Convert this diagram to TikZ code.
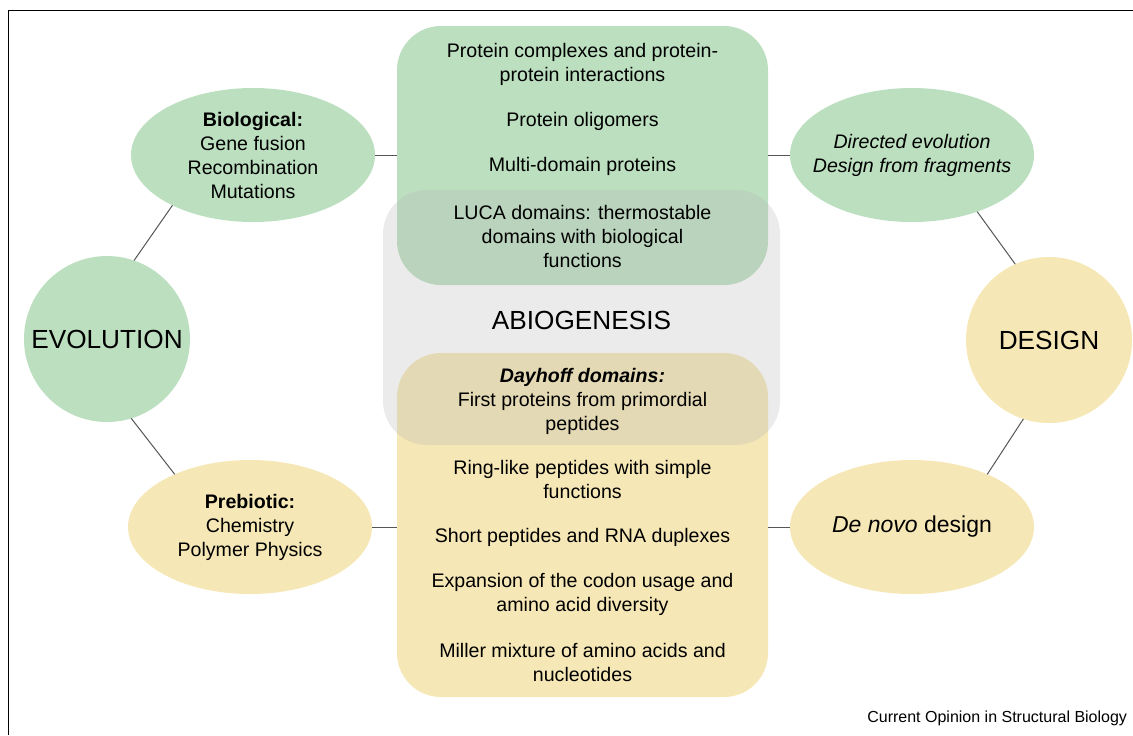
\documentclass[tikz,border=0pt]{standalone}
\usepackage{fontspec}
\setmainfont{Liberation Sans}
\usetikzlibrary{shapes.geometric,positioning}
\definecolor{evogreen}{HTML}{BCDFC0}
\definecolor{desyellow}{HTML}{F6E8B6}
\definecolor{abiogray}{HTML}{B4B4B4}
\definecolor{linkgray}{HTML}{555555}

\tikzset{
  every node/.style={font=\fontsize{9.8}{12}\selectfont, align=center, inner sep=0pt, outer sep=0pt},
  bubble/.style={ellipse, minimum width=122pt, minimum height=67pt},
  hub/.style={circle, minimum size=83pt, font=\fontsize{13.1}{15}\selectfont},
  panel/.style={rectangle, rounded corners=22pt, minimum width=185.5pt},
  link/.style={draw=linkgray, line width=0.5pt},
}

\begin{document}
\begin{tikzpicture}[x=0.5pt,y=-0.5pt]
\useasboundingbox (0,0) rectangle (1133,735);
\draw[line width=0.75pt] (8.5,735) -- (8.5,10.5) -- (1133,10.5);

% central column
\node[panel, fill=evogreen, minimum height=129.5pt] (upper) at (582.5,155.5) {};
\node[panel, fill=desyellow, minimum height=172pt] (lower) at (582.5,525) {};
\node[panel, fill=abiogray, fill opacity=0.27, minimum width=198.5pt, minimum height=127.5pt] (abio) at (581.5,317.5) {};

\node (cplx) at (582.5,64) {Protein complexes and protein-\\protein interactions};
\node (olig) at (582.5,121) {Protein oligomers};
\node (multi) at (582.5,166) {Multi-domain proteins};
\node (luca) at (582.5,236) {LUCA domains: thermostable\\domains with biological\\functions};
\node[font=\fontsize{13.1}{15}\selectfont] (abiotxt) at (581.5,320) {ABIOGENESIS};
\node (dayh) at (582.5,401) {{\bfseries\itshape Dayhoff domains:}\\First proteins from primordial\\peptides};
\node (ring) at (582.5,479) {Ring-like peptides with simple\\functions};
\node (short) at (582.5,537) {Short peptides and RNA duplexes};
\node (codon) at (582.5,594) {Expansion of the codon usage and\\amino acid diversity};
\node (miller) at (582.5,662) {Miller mixture of amino acids and\\nucleotides};

% evolution side
\node[bubble, fill=evogreen] (bio) at (253,155) {\textbf{Biological:}\\Gene fusion\\Recombination\\Mutations};
\node[hub, fill=evogreen] (evo) at (107,339) {EVOLUTION};
\node[bubble, fill=desyellow] (preb) at (250,527) {\textbf{Prebiotic:}\\Chemistry\\Polymer Physics};

% design side
\node[bubble, fill=evogreen, inner sep=-12pt] (dirv) at (912,155) {\textit{Directed evolution}\\\textit{Design from fragments}};
\node[hub, fill=desyellow] (des) at (1049,340) {DESIGN};
\node[bubble, fill=desyellow, font=\fontsize{11.5}{14}\selectfont] (denovo) at (912,527) {\textit{De novo} design};

% connectors
\draw[link] (bio.east) -- (upper.west |- bio.east);
\draw[link] (dirv.west) -- (upper.east |- dirv.west);
\draw[link] (preb.east) -- (lower.west |- preb.east);
\draw[link] (denovo.west) -- (lower.east |- denovo.west);
\draw[link] (bio.212) -- (evo.71);
\draw[link] (evo.287) -- (preb.145);
\draw[link] (dirv.319) -- (des.114);
\draw[link] (des.252) -- (denovo.35);

\node[font=\fontsize{8}{10}\selectfont, anchor=east] (credit) at (1127,718) {Current Opinion in Structural Biology};
\end{tikzpicture}
\end{document}
